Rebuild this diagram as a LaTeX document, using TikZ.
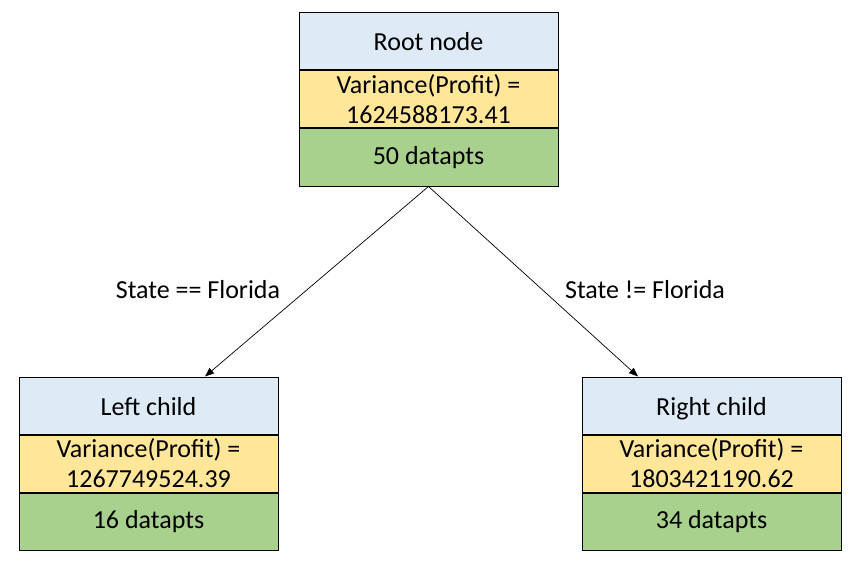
\documentclass[tikz,border=0pt]{standalone}
\usepackage{fontspec}
\setmainfont{Carlito}
\usetikzlibrary{arrows.meta,positioning}
\definecolor{HeadBlue}{HTML}{DEEBF7}
\definecolor{VarYellow}{HTML}{FFE699}
\definecolor{PtsGreen}{HTML}{A9D18E}

\begin{document}
\begin{tikzpicture}[
  x=1pt, y=-1pt,
  cell/.style={draw=black, line width=1pt, minimum width=259pt, minimum height=57pt,
               inner sep=0pt, align=center, font=\fontsize{26}{30}\selectfont},
  head/.style={cell, fill=HeadBlue, text height=20pt, text depth=1pt},
  split/.style={font=\fontsize{26}{30}\selectfont},
  edge/.style={line width=0.7pt, -{Triangle[length=9pt,width=7pt]}},
  node distance=0pt
]
  \useasboundingbox (0,0) rectangle (857,567);

  %% Root node (three stacked cells)
  \node[head] (root-head) at (428.5,41.5) {Root node};
  \node[cell, fill=VarYellow, below=of root-head] (root-var) {Variance(Profit) =\\1624588173.41};
  \node[cell, fill=PtsGreen,  below=of root-var]  (root-pts) {50 datapts};

  %% Left child
  \node[head] (left-head) at (148.5,405.5) {Left child};
  \node[cell, fill=VarYellow, below=of left-head] (left-var) {Variance(Profit) =\\1267749524.39};
  \node[cell, fill=PtsGreen,  below=of left-var]  (left-pts) {16 datapts};

  %% Right child
  \node[head] (right-head) at (711.5,405.5) {Right child};
  \node[cell, fill=VarYellow, below=of right-head] (right-var) {Variance(Profit) =\\1803421190.62};
  \node[cell, fill=PtsGreen,  below=of right-var]  (right-pts) {34 datapts};

  %% Split conditions
  \node[split] (split-left)  at (198,290) {State == Florida};
  \node[split] (split-right) at (645,290) {State != Florida};

  %% Branches
  \draw[edge] (root-pts.south) -- ([xshift=56.5pt]left-head.north);
  \draw[edge] (root-pts.south) -- ([xshift=-73.5pt]right-head.north);
\end{tikzpicture}
\end{document}
